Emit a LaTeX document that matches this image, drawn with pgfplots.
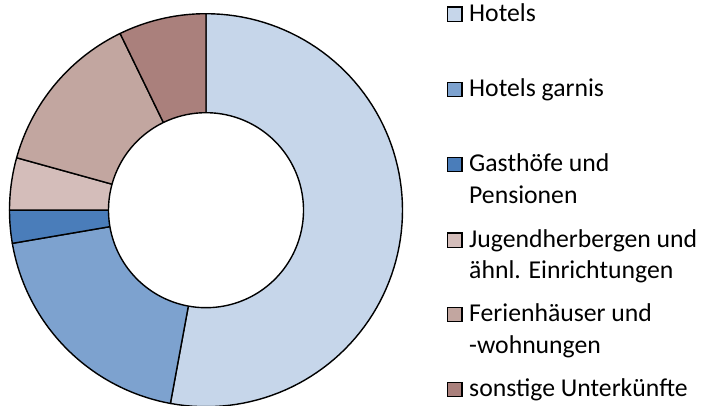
\documentclass[border=0pt]{standalone}
\usepackage{pgfplots}
\pgfplotsset{compat=1.18}
\usepackage{fontspec}
\setmainfont{Carlito}
\definecolor{cHotels}{HTML}{C6D6EA}
\definecolor{cGarnis}{HTML}{7DA2CF}
\definecolor{cGast}{HTML}{4A7DBA}
\definecolor{cJugend}{HTML}{D4BDBA}
\definecolor{cFerien}{HTML}{C2A6A0}
\definecolor{cSonst}{HTML}{AA807C}
\newcommand\legfont{\fontsize{25.7bp}{31.5bp}\selectfont}
\begin{document}
\begin{tikzpicture}[x=1bp,y=1bp]
\begin{axis}[at={(206bp,194.8bp)}, anchor=origin, scale only axis,
  width=400bp, height=400bp, xmin=-200, xmax=200, ymin=-200, ymax=200,
  hide axis, clip=false]
\def\cum{0}
\pgfplotsforeachungrouped \v/\c in {52.9/cHotels,19.4/cGarnis,2.7/cGast,4.3/cJugend,13.5/cFerien,7.2/cSonst}{%
  \pgfmathsetmacro\a{90-3.6*\cum}%
  \pgfmathsetmacro\cumnew{\cum+\v}%
  \pgfmathsetmacro\b{90-3.6*\cumnew}%
  \let\cum\cumnew
  \edef\tmp{\noexpand\addplot[fill=\c, draw=black, line width=1.4bp, line join=round, domain=\b:\a, samples=90] ({196.5*cos(x)},{196.5*sin(x)}) -- (axis cs:0,0) -- cycle;}%
  \tmp
}
\addplot[fill=white, draw=black, line width=1.4bp, domain=0:360, samples=181] ({97.5*cos(x)},{97.5*sin(x)}) -- cycle;
\end{axis}
\newcommand\legitem[5]{%
  \path[fill=#2, draw=black, line width=1.4bp] (447.5,{405-#1}) rectangle ++(14.5,14.5);
  \node[anchor=base west, inner sep=0pt, font=\legfont] at (469,{405-#1}) {#3};
  \node[anchor=base west, inner sep=0pt, font=\legfont] at (469,{405-#1-#5}) {#4};
}
\legitem{21.7}{cHotels}{Hotels}{}{31.6}
\legitem{96.7}{cGarnis}{Hotels garnis}{}{31.6}
\legitem{171.7}{cGast}{Gasthöfe und}{Pensionen}{31.6}
\legitem{247.5}{cJugend}{Jugendherbergen und}{ähnl. Einrichtungen}{31}
\legitem{321.7}{cFerien}{Ferienhäuser und}{-wohnungen}{31.3}
\legitem{396.7}{cSonst}{sonstige Unterkünfte}{}{31.6}
\pgfresetboundingbox
\path[use as bounding box] (0,0) rectangle (708,405);
\end{tikzpicture}
\end{document}
